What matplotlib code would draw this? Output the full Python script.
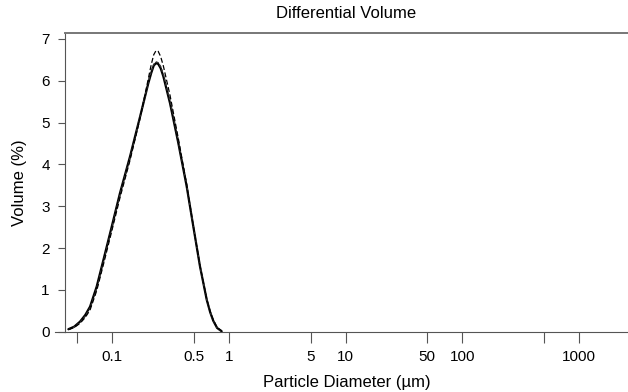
import matplotlib
matplotlib.use("Agg")
import matplotlib.pyplot as plt
from matplotlib.ticker import FixedLocator, NullLocator, FixedFormatter

plt.rcParams['font.family'] = ['Liberation Sans', 'DejaVu Sans']

# particle diameters (um)
diam = [0.0419, 0.0470, 0.0527, 0.0585, 0.0643, 0.0733, 0.0836, 0.0986, 0.116,
        0.1416, 0.1726, 0.2032, 0.215, 0.226, 0.2366, 0.247, 0.259, 0.2735,
        0.3119, 0.3673, 0.4335, 0.4943, 0.5636, 0.6442, 0.690, 0.7328, 0.790,
        0.865]
vol_solid = [0.06, 0.12, 0.24, 0.40, 0.60, 1.08, 1.71, 2.51, 3.31,
             4.19, 5.14, 5.94, 6.18, 6.36, 6.42, 6.40, 6.30, 6.10,
             5.46, 4.51, 3.47, 2.51, 1.56, 0.76, 0.46, 0.26, 0.09,
             0.01]
vol_dashed = [0.05, 0.10, 0.20, 0.34, 0.52, 0.98, 1.60, 2.40, 3.20,
              4.10, 5.10, 6.05, 6.38, 6.62, 6.72, 6.70, 6.58, 6.35,
              5.65, 4.62, 3.52, 2.52, 1.58, 0.78, 0.48, 0.28, 0.10,
              0.02]
vol_dotted = [0.05, 0.11, 0.22, 0.37, 0.56, 1.03, 1.66, 2.46, 3.27,
              4.15, 5.12, 5.98, 6.22, 6.39, 6.45, 6.43, 6.34, 6.15,
              5.52, 4.56, 3.50, 2.52, 1.57, 0.77, 0.47, 0.27, 0.09,
              0.01]

major_ticks = [0.05, 0.1, 0.5, 1, 5, 10, 50, 100, 500, 1000]
major_labels = ['', '0.1', '0.5', '1', '5', '10', '50', '100', '', '1000']
y_ticks = [0, 1, 2, 3, 4, 5, 6, 7]

fig = plt.figure(figsize=(6.28, 3.92), dpi=100)
ax = fig.add_axes([0.1035, 0.1538, 0.8965, 0.762])

ax.plot(diam, vol_solid, color='black', lw=1.6, solid_capstyle='round',
        solid_joinstyle='round')
ax.plot(diam, vol_dotted, color='#333333', lw=1.0, ls=(0, (2, 1.5)))
ax.plot(diam, vol_dashed, color='black', lw=0.9, ls=(0, (4, 2)))

ax.set_xscale('log')
ax.set_xlim(0.0392, 2640)
ax.set_ylim(0, 7.14)

ax.xaxis.set_major_locator(FixedLocator(major_ticks))
ax.xaxis.set_major_formatter(FixedFormatter(major_labels))
ax.xaxis.set_minor_locator(NullLocator())
ax.set_yticks(y_ticks)

ax.tick_params(axis='x', direction='out', length=8, width=0.8, color='#555555',
               pad=5, labelsize=11)
ax.tick_params(axis='y', direction='out', length=5, width=0.8, color='#555555',
               pad=6, labelsize=11)

ax.spines['right'].set_visible(False)
ax.spines['top'].set_color('#777777')
ax.spines['top'].set_linewidth(1.4)
ax.spines['left'].set_color('#555555')
ax.spines['bottom'].set_color('#555555')
ax.spines['left'].set_linewidth(0.8)
ax.spines['bottom'].set_linewidth(0.8)

# zero line runs a little left of the y axis
ax.plot([-0.017, 0], [0, 0], transform=ax.transAxes, color='#555555',
        lw=0.8, clip_on=False)

ax.set_title('Differential Volume', fontsize=12, pad=11)
ax.set_xlabel('Particle Diameter (\u00b5m)', fontsize=12, labelpad=8)
ax.set_ylabel('Volume (%)', fontsize=12, labelpad=10)

fig.savefig('out.png', dpi=100)
